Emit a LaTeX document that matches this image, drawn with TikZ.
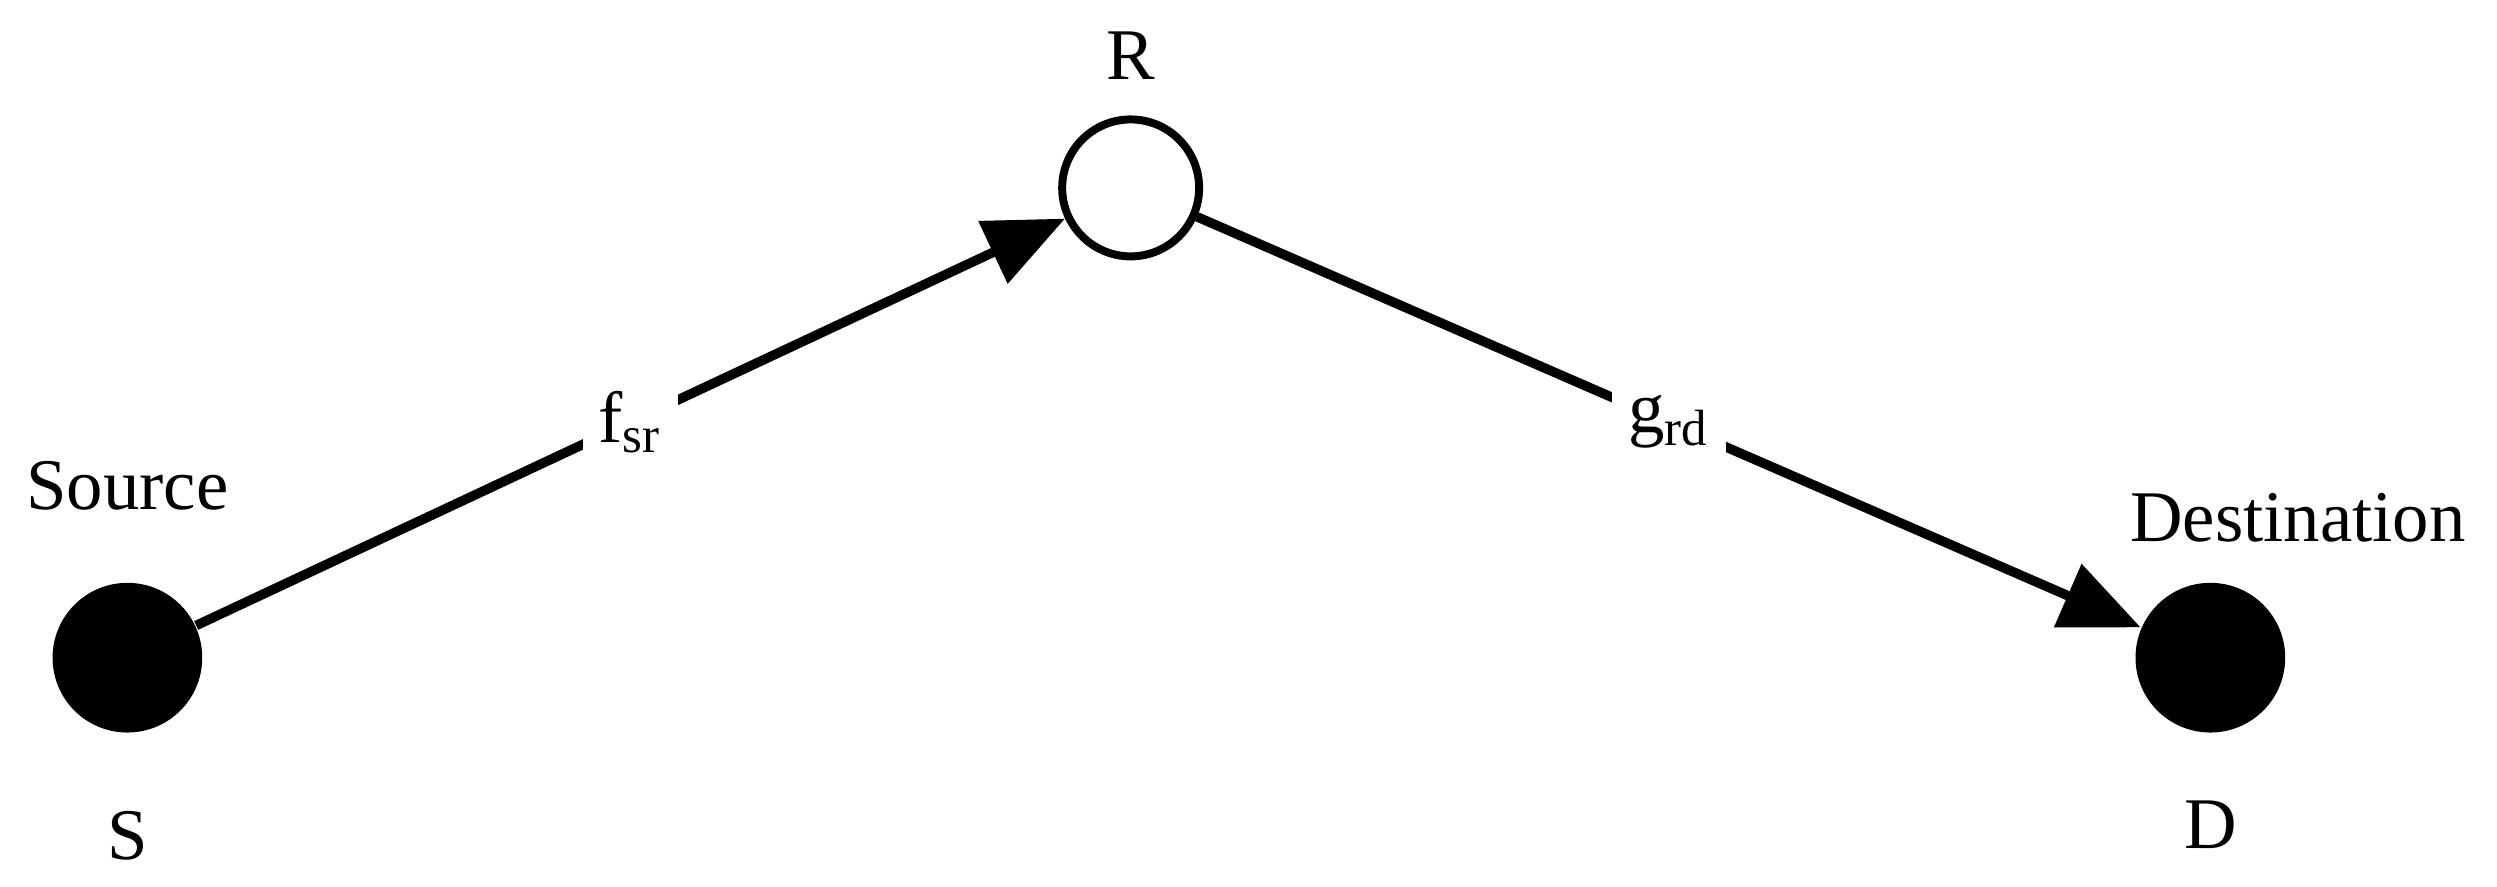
\documentclass[tikz,border=0pt]{standalone}
\usepackage{fontspec}
\setmainfont{Liberation Serif}
\usetikzlibrary{arrows.meta}
\begin{document}
\begin{tikzpicture}[x=0.1mm,y=-0.1mm,
  lbl/.style={font=\fontsize{13pt}{15pt}\selectfont},
  link/.style={line width=0.6mm,-{Triangle[length=5mm,width=4.2mm]}},
  elbl/.style={fill=white,inner sep=1mm,font=\fontsize{13pt}{15pt}\selectfont}]
\useasboundingbox (0,0) rectangle (1568,557);
\node[circle,fill=black,minimum size=9.4mm,inner sep=0] (S) at (80,413) {};
\node[circle,draw,line width=0.5mm,fill=white,minimum size=8.6mm,inner sep=0] (R) at (710,118) {};
\node[circle,fill=black,minimum size=9.4mm,inner sep=0] (D) at (1388,413) {};
\node[lbl] (Sl) at (80,305) {Source};
\node[lbl] (Ss) at (80,525) {S};
\node[lbl] (Rl) at (710,35) {R};
\node[lbl] (Dl) at (1443,325) {Destination};
\node[lbl] (Ds) at (1388,518) {D};
\draw[link] (S) -- node[elbl] {f\textsubscript{sr}} (R);
\draw[link] (R) -- node[elbl] {g\textsubscript{rd}} (D);
\end{tikzpicture}
\end{document}
